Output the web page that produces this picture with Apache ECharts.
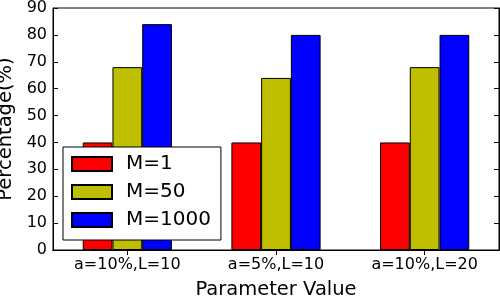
<!DOCTYPE html>
<html>
<head>
<meta charset="utf-8">
<script src="https://cdn.jsdelivr.net/npm/echarts@6/dist/echarts.min.js"></script>
<style>html,body{margin:0;padding:0;background:#fff}#c{width:500px;height:297px}</style>
</head>
<body>
<div id="c"></div>
<script>
const categories = ['a=10%,L=10', 'a=5%,L=10', 'a=10%,L=20'];
const seriesNames = ['M=1', 'M=50', 'M=1000'];
const m1 = [40, 40, 40];
const m50 = [68, 64, 68];
const m1000 = [84, 80, 80];
const yTicks = [0, 10, 20, 30, 40, 50, 60, 70, 80, 90];

const font = 'DejaVu Sans';
const colors = ['#ff0000', '#bfbf00', '#0000ff'];
const values = [m1, m50, m1000];

const chart = echarts.init(document.getElementById('c'), null, {renderer: 'canvas'});
chart.setOption({
  animation: false,
  textStyle: {fontFamily: font},
  grid: {left: 53, right: 1, top: 8, bottom: 47, show: true, borderColor: '#000', borderWidth: 1,
    backgroundColor: 'transparent', containLabel: false, outerBoundsMode: 'none'},
  legend: {
    orient: 'vertical', left: 63, top: 147,
    padding: [7, 10, 10, 8],
    itemWidth: 40, itemHeight: 14, itemGap: 8,
    backgroundColor: '#fff', borderColor: '#000', borderWidth: 1,
    borderRadius: 0,
    textStyle: {fontFamily: font, fontSize: 20, color: '#000', lineHeight: 20, padding: [0, 0, 0, 9]},
    data: seriesNames.map(n => ({name: n, icon: 'rect'})),
    z: 10
  },
  xAxis: [{
    type: 'category', data: categories, position: 'bottom',
    axisLine: {show: true, lineStyle: {color: '#000', width: 1}},
    axisTick: {show: true, inside: true, alignWithLabel: true, length: 5, lineStyle: {color: '#000'}},
    axisLabel: {fontFamily: font, fontSize: 16, color: '#000', margin: 7},
    name: 'Parameter Value', nameLocation: 'middle', nameGap: 30,
    nameTextStyle: {fontFamily: font, fontSize: 19.5, color: '#000'}
  }, {
    type: 'category', data: categories, position: 'top',
    axisLine: {show: true, lineStyle: {color: '#000', width: 1}},
    axisTick: {show: true, inside: true, alignWithLabel: true, length: 5, lineStyle: {color: '#000'}},
    axisLabel: {show: false}
  }],
  yAxis: [{
    type: 'value', min: 0, max: 90, interval: 10, position: 'left',
    axisLine: {show: true, lineStyle: {color: '#000', width: 1}},
    axisTick: {show: true, inside: true, length: 5, lineStyle: {color: '#000'}},
    axisLabel: {fontFamily: font, fontSize: 16, color: '#000', margin: 6,
      formatter: v => yTicks.includes(v) ? String(v) : ''},
    splitLine: {show: false},
    name: 'Percentage(%)', nameLocation: 'middle', nameGap: 31,
    nameTextStyle: {fontFamily: font, fontSize: 19.5, color: '#000'}
  }, {
    type: 'value', min: 0, max: 90, interval: 10, position: 'right',
    axisLine: {show: true, lineStyle: {color: '#000', width: 1}},
    axisTick: {show: true, inside: true, length: 5, lineStyle: {color: '#000'}},
    axisLabel: {show: false},
    splitLine: {show: false}
  }],
  series: seriesNames.map((n, i) => ({
    name: n, type: 'bar', data: values[i], xAxisIndex: 0, yAxisIndex: 0,
    barWidth: '20%', barGap: '0%',
    itemStyle: {color: colors[i], borderColor: '#000', borderWidth: 1}
  }))
});
</script>
</body>
</html>
